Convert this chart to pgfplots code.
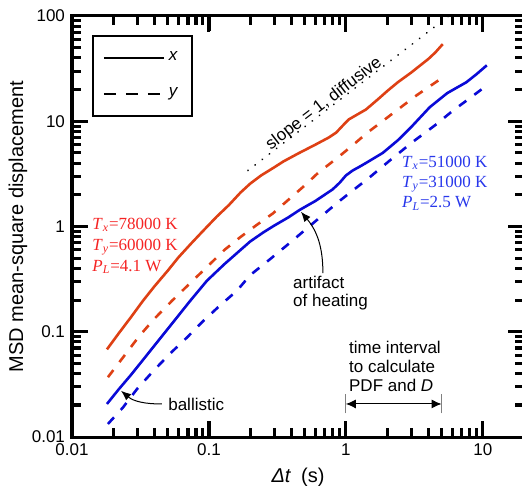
\documentclass[border=0pt]{standalone}
\usepackage{pgfplots}
\pgfplotsset{compat=1.18}
\usepackage{fontspec}
\setmainfont{Liberation Sans}
\newfontfamily\serif{Liberation Serif}
\usetikzlibrary{arrows.meta}

\definecolor{redline}{RGB}{222,64,20}
\definecolor{redtext}{RGB}{245,35,35}
\definecolor{blueline}{RGB}{10,10,215}
\definecolor{bluetext}{RGB}{40,55,235}
\newcommand\af{\fontsize{8.5}{10}\selectfont}

\begin{document}
\begin{tikzpicture}
\begin{axis}[
  name=ax, at={(0,0)}, anchor=south west,
  scale only axis, width=226pt, height=210.5pt,
  xmode=log, ymode=log,
  xmin=0.01, xmax=20, ymin=0.01, ymax=100,
  clip=false,
  axis line style={line width=1.5pt},
  tick style={draw=black, line width=1.5pt},
  tick align=inside,
  major tick length=8pt, minor tick length=4.5pt,
  xtick={0.01,0.1,1,10}, xticklabels={0.01,0.1,1,10},
  ytick={0.01,0.1,1,10,100}, yticklabels={0.01,0.1,1,10,100},
  minor xtick={0.02,0.03,0.04,0.05,0.06,0.07,0.08,0.09,0.2,0.3,0.4,0.5,0.6,0.7,0.8,0.9,2,3,4,5,6,7,8,9},
  minor ytick={0.02,0.03,0.04,0.05,0.06,0.07,0.08,0.09,0.2,0.3,0.4,0.5,0.6,0.7,0.8,0.9,2,3,4,5,6,7,8,9,20,30,40,50,60,70,80,90},
  ticklabel style={font=\af},
  xlabel={\textit{Δt}\enspace(s)},
  ylabel={MSD mean-square displacement},
  label style={font=\af},
  every axis x label/.style={at={(axis description cs:0.5,-0.095)}, anchor=center},
  every axis y label/.style={at={(axis description cs:-0.1195,0.5)}, rotate=90, anchor=center},
  legend style={at={(axis description cs:0.044,0.955)}, anchor=north west,
    draw=black, line width=1pt, inner xsep=5pt, inner ysep=6pt, row sep=8pt,
    font=\af, cells={anchor=west}},
  legend image code/.code={\draw[#1] (0pt,0pt) -- (30pt,0pt);},
]
\addlegendimage{black, line width=1pt}
\addlegendentry{\textit{x}}
\addlegendimage{black, line width=1pt, dash pattern=on 6pt off 5pt}
\addlegendentry{\textit{y}}

% slope 1 guide
\addplot[forget plot, black, line width=1pt, line cap=round, dash pattern=on 0.01pt off 4.5pt]
  coordinates {(0.193,3.41) (5.65,100)};

% red, x
\addplot[forget plot, redline, line width=1.3pt] coordinates {
(0.018,0.068) (0.022,0.097) (0.027,0.138) (0.033,0.197) (0.04,0.27)
(0.05,0.38) (0.06,0.51) (0.075,0.70) (0.09,0.90) (0.114,1.24)
(0.14,1.6) (0.17,2.1) (0.2,2.55) (0.24,3.05) (0.3,3.65) (0.35,4.15)
(0.45,4.95) (0.6,6.0) (0.75,7.0) (0.85,7.8) (0.95,9.1) (1.05,10.4)
(1.2,11.5) (1.4,12.9) (1.7,16) (2.0,19.3) (2.4,23.5) (3.0,29)
(3.5,34) (4.0,39) (4.5,45) (5.1,54)};
% red, y
\addplot[forget plot, redline, line width=1.3pt, dash pattern=on 4.5pt off 5pt] coordinates {
(0.0183,0.037) (0.025,0.063) (0.031,0.091) (0.04,0.133) (0.054,0.198)
(0.073,0.29) (0.1,0.43) (0.13,0.60) (0.168,0.785) (0.22,1.02)
(0.293,1.33) (0.4,1.9) (0.5,2.45) (0.63,3.25) (0.86,4.45) (1.12,5.9)
(1.42,7.7) (2.0,10.8) (2.6,14) (3.3,17.7) (4.0,21) (5.02,25.7)};
% blue, x
\addplot[forget plot, blueline, line width=1.3pt] coordinates {
(0.018,0.0206) (0.022,0.0285) (0.027,0.039) (0.033,0.054) (0.042,0.080)
(0.055,0.124) (0.0726,0.195) (0.0966,0.305) (0.13,0.44) (0.168,0.59)
(0.2,0.72) (0.25,0.88) (0.3,1.02) (0.38,1.22) (0.461,1.44) (0.6,1.75)
(0.8,2.25) (0.9,2.6) (1.0,3.05) (1.12,3.4) (1.26,3.7) (1.42,4.05)
(1.86,5.0) (2.4,6.6) (3.0,8.8) (4.1,13.6) (5.5,18.5) (7.6,23.5)
(9.0,28) (10.7,34)};
% blue, y
\addplot[forget plot, blueline, line width=1.3pt, dash pattern=on 4.5pt off 5pt] coordinates {
(0.0183,0.0133) (0.0235,0.019) (0.0298,0.0285) (0.039,0.042) (0.052,0.062)
(0.069,0.088) (0.09,0.125) (0.12,0.177) (0.16,0.245) (0.2,0.345)
(0.28,0.49) (0.38,0.68) (0.52,0.96) (0.7,1.33) (0.9,1.75) (1.2,2.35)
(1.5,2.95) (2.1,4.25) (3.0,6.2) (4.5,9.2) (6.0,12.5) (8.0,16.5) (10.5,21.5)};

% annotations
\node[rotate=37.5, anchor=base, yshift=1pt, inner sep=0pt, font=\af] at (axis cs:0.74,13.1) {slope = 1, diffusive};

\node[anchor=west, align=left, inner sep=0pt, text=redtext, font=\serif\fontsize{8.5}{10.5}\selectfont]
  at (axis cs:0.014,0.66)
  {\textit{T}\textsubscript{\textit{x}}=78000 K\\\textit{T}\textsubscript{\textit{y}}=60000 K\\\textit{P}\textsubscript{\textit{L}}=4.1 W};
\node[anchor=west, align=left, inner sep=0pt, text=bluetext, font=\serif\fontsize{8.5}{10}\selectfont]
  at (axis cs:2.56,2.57)
  {\textit{T}\textsubscript{\textit{x}}=51000 K\\\textit{T}\textsubscript{\textit{y}}=31000 K\\\textit{P}\textsubscript{\textit{L}}=2.5 W};

\node[anchor=west, inner sep=0pt, font=\af] (bal) at (axis cs:0.0502,0.0206) {ballistic};
\draw[line width=0.5pt, -{Latex[length=5pt,width=4pt]}] ([xshift=-3pt]bal.west) to[out=180,in=-40] (axis cs:0.0228,0.0275);

\node[anchor=north west, align=left, inner sep=0pt, font=\fontsize{8.5}{9}\selectfont] at (axis cs:0.41,0.341) {artifact\\of heating};
\draw[line width=0.5pt, -{Latex[length=5pt,width=4pt]}] (axis cs:0.68,0.36) to[out=90,in=-50] (axis cs:0.47,1.38);

\node[anchor=south west, align=left, inner sep=0pt, font=\fontsize{8.5}{9.5}\selectfont] at (axis cs:1.05,0.0268) {time interval\\to calculate\\PDF and \textit{D}};
\draw[line width=0.5pt, {Latex[length=5pt,width=4.5pt]}-{Latex[length=5pt,width=4.5pt]}] (axis cs:1,0.0206) -- (axis cs:5,0.0206);
\draw[line width=0.4pt, gray] ([yshift=-4.75pt]axis cs:1,0.0206) -- ([yshift=4.75pt]axis cs:1,0.0206);
\draw[line width=0.4pt, gray] ([yshift=-4.75pt]axis cs:5,0.0206) -- ([yshift=4.75pt]axis cs:5,0.0206);
\end{axis}

% frame and tick marks, drawn over the axis (68.4635pt per x decade, 52.625pt per y decade)
\draw[line width=1.5pt] (0,0) rectangle (226pt,210.5pt);
\foreach \v in {0.1,1,10} {
  \pgfmathsetmacro\p{(log10(\v)+2)*68.4635}
  \draw[line width=1.5pt] (\p pt,0pt) -- (\p pt,8pt);
  \draw[line width=1.5pt] (\p pt,210.5pt) -- (\p pt,203pt);
}
\foreach \v in {0.02,0.03,0.04,0.05,0.06,0.07,0.08,0.09,0.2,0.3,0.4,0.5,0.6,0.7,0.8,0.9,2,3,4,5,6,7,8,9} {
  \pgfmathsetmacro\p{(log10(\v)+2)*68.4635}
  \draw[line width=1.5pt] (\p pt,0pt) -- (\p pt,4.5pt);
  \draw[line width=1.5pt] (\p pt,210.5pt) -- (\p pt,206pt);
}
\foreach \v in {0.1,1,10} {
  \pgfmathsetmacro\p{(log10(\v)+2)*52.625}
  \draw[line width=1.5pt] (0pt,\p pt) -- (8pt,\p pt);
  \draw[line width=1.5pt] (226pt,\p pt) -- (218pt,\p pt);
}
\foreach \v in {0.02,0.03,0.04,0.05,0.06,0.07,0.08,0.09,0.2,0.3,0.4,0.5,0.6,0.7,0.8,0.9,2,3,4,5,6,7,8,9,20,30,40,50,60,70,80,90} {
  \pgfmathsetmacro\p{(log10(\v)+2)*52.625}
  \draw[line width=1.5pt] (0pt,\p pt) -- (4.5pt,\p pt);
  \draw[line width=1.5pt] (226pt,\p pt) -- (221.5pt,\p pt);
}
\pgfresetboundingbox
\path[use as bounding box] (-36pt,-24pt) rectangle (225pt,218.5pt);
\end{tikzpicture}
\end{document}
